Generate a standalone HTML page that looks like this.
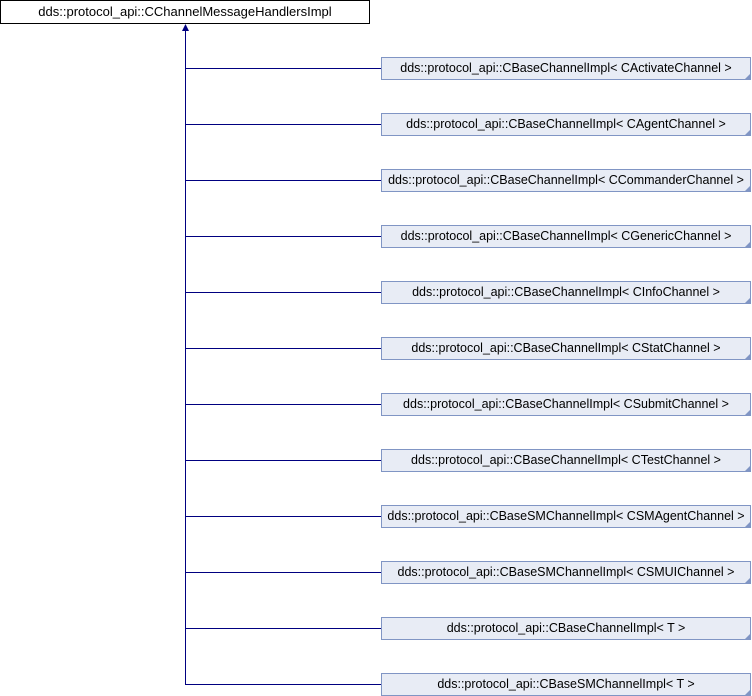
<!DOCTYPE html>
<html><head><style>
body{margin:0;background:#fff;width:752px;height:696px;overflow:hidden;position:relative;font-family:"Liberation Sans",sans-serif;font-size:12.5px}
.b{position:absolute;box-sizing:border-box;text-align:center;line-height:20px;white-space:nowrap}
.c{left:381px;width:370px;height:23px;background:#e8ecf5;border:1px solid #8095c4}
.c:after{content:"";position:absolute;right:0;bottom:0;border-left:5px solid transparent;border-bottom:5px solid #8095c4}
</style></head><body>
<div class="b" style="left:0;top:0;width:370px;height:24px;border:1px solid #000;background:#fff;line-height:21px;font-size:13px">dds::protocol_api::CChannelMessageHandlersImpl</div>
<svg width="752" height="696" style="position:absolute;left:0;top:0">
<g stroke="#000080" stroke-width="1" fill="none">
<line x1="185.5" y1="30" x2="185.5" y2="684.5"/>
<line x1="185" y1="68.5" x2="381" y2="68.5"/>
<line x1="185" y1="124.5" x2="381" y2="124.5"/>
<line x1="185" y1="180.5" x2="381" y2="180.5"/>
<line x1="185" y1="236.5" x2="381" y2="236.5"/>
<line x1="185" y1="292.5" x2="381" y2="292.5"/>
<line x1="185" y1="348.5" x2="381" y2="348.5"/>
<line x1="185" y1="404.5" x2="381" y2="404.5"/>
<line x1="185" y1="460.5" x2="381" y2="460.5"/>
<line x1="185" y1="516.5" x2="381" y2="516.5"/>
<line x1="185" y1="572.5" x2="381" y2="572.5"/>
<line x1="185" y1="628.5" x2="381" y2="628.5"/>
<line x1="185" y1="684.5" x2="381" y2="684.5"/>
</g>
<polygon points="185.5,24 182,31 189,31" fill="#000080"/>
</svg>
<div class="b c" style="top:57px">dds::protocol_api::CBaseChannelImpl&lt; CActivateChannel &gt;</div>
<div class="b c" style="top:113px">dds::protocol_api::CBaseChannelImpl&lt; CAgentChannel &gt;</div>
<div class="b c" style="top:169px">dds::protocol_api::CBaseChannelImpl&lt; CCommanderChannel &gt;</div>
<div class="b c" style="top:225px">dds::protocol_api::CBaseChannelImpl&lt; CGenericChannel &gt;</div>
<div class="b c" style="top:281px">dds::protocol_api::CBaseChannelImpl&lt; CInfoChannel &gt;</div>
<div class="b c" style="top:337px">dds::protocol_api::CBaseChannelImpl&lt; CStatChannel &gt;</div>
<div class="b c" style="top:393px">dds::protocol_api::CBaseChannelImpl&lt; CSubmitChannel &gt;</div>
<div class="b c" style="top:449px">dds::protocol_api::CBaseChannelImpl&lt; CTestChannel &gt;</div>
<div class="b c" style="top:505px">dds::protocol_api::CBaseSMChannelImpl&lt; CSMAgentChannel &gt;</div>
<div class="b c" style="top:561px">dds::protocol_api::CBaseSMChannelImpl&lt; CSMUIChannel &gt;</div>
<div class="b c" style="top:617px">dds::protocol_api::CBaseChannelImpl&lt; T &gt;</div>
<div class="b c" style="top:673px">dds::protocol_api::CBaseSMChannelImpl&lt; T &gt;</div>
</body></html>
